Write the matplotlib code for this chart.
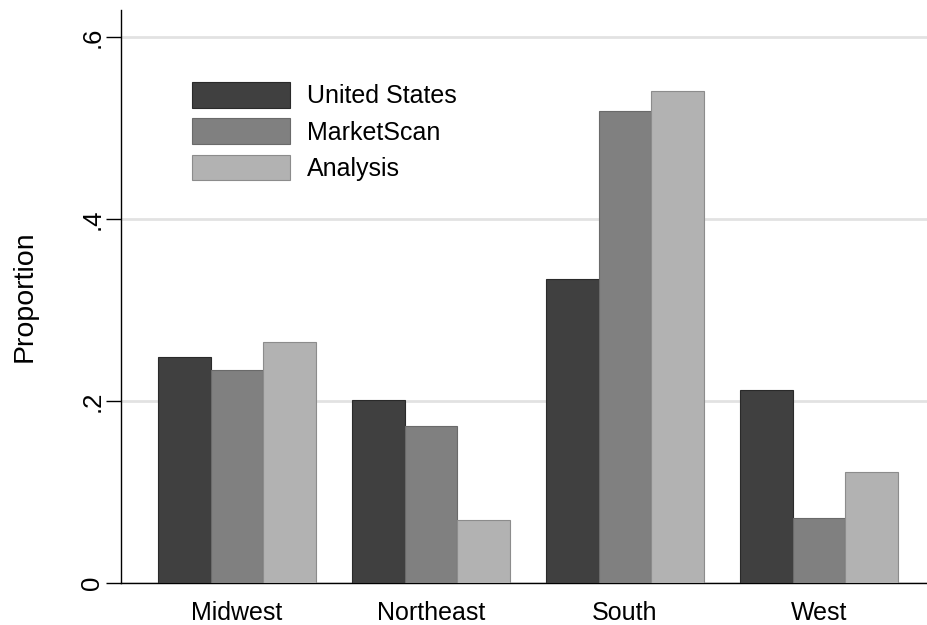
import numpy as np
import matplotlib
matplotlib.use("Agg")
import matplotlib.pyplot as plt

plt.rcParams['font.family'] = ['Liberation Sans', 'DejaVu Sans']

regions = ["Midwest", "Northeast", "South", "West"]
series = ["United States", "MarketScan", "Analysis"]
us = [0.248, 0.201, 0.334, 0.212]
marketscan = [0.234, 0.173, 0.519, 0.071]
analysis = [0.265, 0.069, 0.541, 0.122]
yticks = [0, 0.2, 0.4, 0.6]
yticklabels = ["0", ".2", ".4", ".6"]

colors = ["#404040", "#808080", "#b2b2b2"]
edges = ["#2a2a2a", "#6a6a6a", "#8c8c8c"]

fig = plt.figure(figsize=(9.27, 6.25), dpi=100)
W, H = 927, 625
ax = fig.add_axes([121 / W, (H - 583) / H, 814 / W, 573 / H])

x = np.arange(len(regions))
bw = 0.2716
for i, (vals, name) in enumerate(zip([us, marketscan, analysis], series)):
    ax.bar(x + (i - 1) * bw, vals, width=bw, color=colors[i],
           edgecolor=edges[i], linewidth=0.8, label=name, zorder=3)

ax.set_xlim(-0.598, 3.598)
ax.set_ylim(0, 0.63)
ax.set_yticks(yticks)
ax.set_yticklabels(yticklabels, rotation=90, va="center", fontsize=18.5)
ax.set_xticks(x)
ax.set_xticklabels(regions, fontsize=18)
ax.tick_params(axis="x", length=0, pad=13)
ax.tick_params(axis="y", length=11, width=1, pad=1)
ax.yaxis.grid(True, color="#e2e2e2", linewidth=2, zorder=0)
ax.set_axisbelow(True)

for s in ["top", "right"]:
    ax.spines[s].set_visible(False)
ax.spines["left"].set_linewidth(1)
ax.spines["bottom"].set_linewidth(1)

ax.set_ylabel("Proportion", fontsize=20.5)
ax.yaxis.set_label_coords(-0.103, 0.5)

ax.legend(loc="upper left", bbox_to_anchor=(192 / W, 1 - 82 / H),
          bbox_transform=fig.transFigure, frameon=False, fontsize=18,
          handlelength=3.92, handleheight=1.2, labelspacing=0.4,
          handletextpad=0.68, borderpad=0, borderaxespad=0)

fig.savefig("out.png", dpi=100, facecolor="white")
